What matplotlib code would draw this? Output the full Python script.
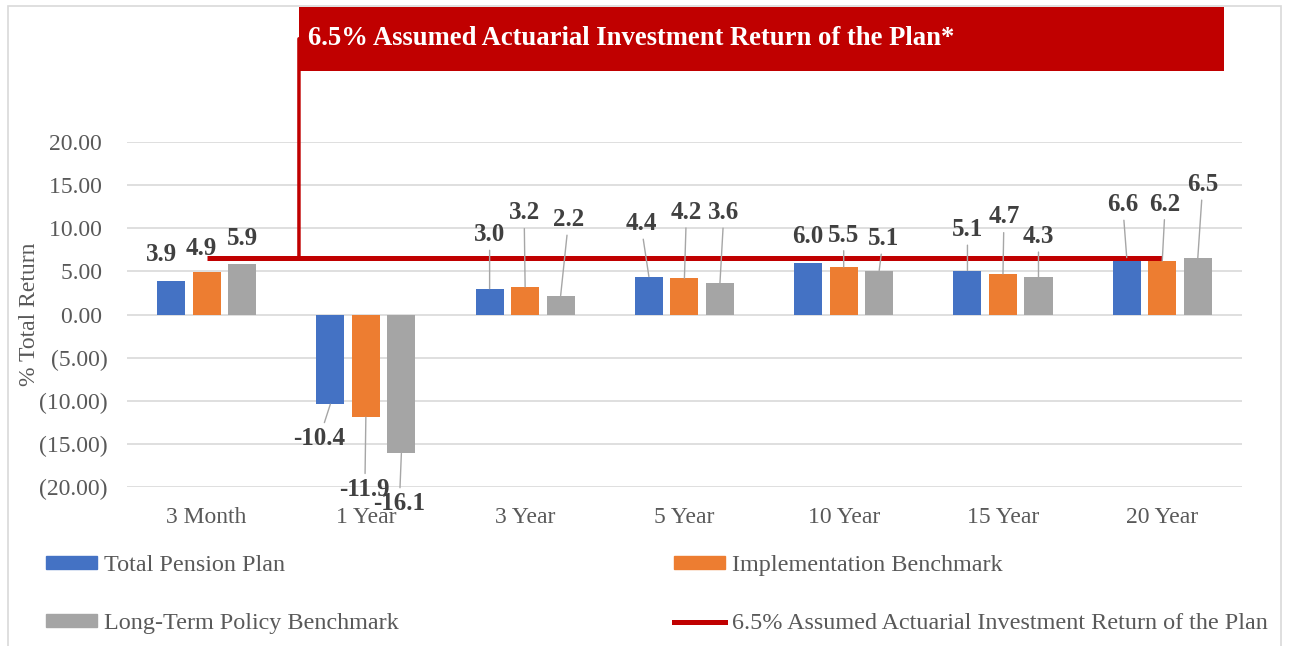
import matplotlib
matplotlib.use("Agg")
import matplotlib.pyplot as plt
from matplotlib.patches import Rectangle
from matplotlib.lines import Line2D
from matplotlib.ticker import FuncFormatter
import numpy as np

plt.rcParams['font.family'] = ['Liberation Serif', 'DejaVu Serif']

# datos del grafico
categorias = ['3 Month', '1 Year', '3 Year', '5 Year', '10 Year', '15 Year', '20 Year']
total_plan = [3.9, -10.4, 3.0, 4.4, 6.0, 5.1, 6.6]
implementation = [4.9, -11.9, 3.2, 4.2, 5.5, 4.7, 6.2]
long_term = [5.9, -16.1, 2.2, 3.6, 5.1, 4.3, 6.5]
assumed_return = [6.5, 6.5, 6.5, 6.5, 6.5, 6.5, 6.5]

nombres = ['Total Pension Plan', 'Implementation Benchmark', 'Long-Term Policy Benchmark']
linea_nombre = '6.5% Assumed Actuarial Investment Return of the Plan'
callout = '6.5% Assumed Actuarial Investment Return of the Plan*'

# desplazamiento (pixeles) de las etiquetas de datos respecto al extremo de la barra
off_total = [(-10, 26), (-11, -34), (0, 54), (-8, 53), (0, 26), (0, 41), (-4, 53)]
off_impl = [(-5, 24), (-1, -72), (-1, 74), (2, 66), (0, 32), (1, 57), (3, 57)]
off_long = [(0, 25), (-2, -50), (8, 76), (4, 71), (4, 32), (0, 41), (5, 74)]

colores = ['#4472C4', '#ED7D31', '#A5A5A5']
rojo = '#C00000'
gris_txt = '#595959'
gris_lbl = '#404040'

fig = plt.figure(figsize=(12.9, 6.46), dpi=100)
ax = fig.add_axes([0.0984, 0.2461, 0.8643, 0.5341])

x = np.arange(len(categorias))
paso = 0.223
ancho = 0.176
series = [total_plan, implementation, long_term]
offsets = [off_total, off_impl, off_long]

for k in range(3):
    pos = x + (k - 1) * paso
    ax.bar(pos, series[k], width=ancho, color=colores[k], zorder=2, label=nombres[k])
    for i in range(len(categorias)):
        dx, dy = offsets[k][i]
        props = None
        if abs(dy) > 28:
            props = dict(arrowstyle='-', color='#A6A6A6', lw=1, shrinkA=1, shrinkB=0)
        ax.annotate('%.1f' % series[k][i], xy=(pos[i], series[k][i]), xytext=(dx, dy),
                    textcoords='offset pixels', ha='center', va='center',
                    fontsize=18, fontweight='bold', color=gris_lbl,
                    arrowprops=props, zorder=5)

ax.plot(x, assumed_return, color=rojo, lw=3.6, zorder=4, solid_capstyle='butt')

# ejes
ax.set_xlim(-0.5, 6.5)
ax.set_ylim(-20, 20)
ax.set_yticks(np.arange(-20, 21, 5))
ax.yaxis.set_major_formatter(FuncFormatter(
    lambda v, p: '(%.2f)' % abs(v) if v < 0 else '%.2f ' % v))
ax.set_xticks(x)
ax.set_xticklabels(categorias)
ax.tick_params(axis='both', length=0, labelsize=17, labelcolor=gris_txt)
ax.tick_params(axis='y', pad=14)
ax.tick_params(axis='x', pad=14.5)
ax.grid(axis='y', color='#D9D9D9', lw=1.2, zorder=0)
ax.set_axisbelow(True)
for s in ax.spines.values():
    s.set_visible(False)
ax.set_ylabel('% Total Return', fontsize=17, color=gris_txt, labelpad=-0.5)

# recuadro rojo del titulo
fig.patches.append(Rectangle((0.2318, 0.890), 0.717, 0.099, transform=fig.transFigure,
                             facecolor=rojo, edgecolor='none', zorder=1))
fig.text(0.2388, 0.941, callout, color='white', fontsize=19.2, fontweight='bold',
         ha='left', va='center')
ax.annotate('', xy=(0.58, 6.5), xycoords='data', xytext=(0.58, 0.94),
            textcoords=('data', 'figure fraction'),
            arrowprops=dict(arrowstyle='-', color=rojo, lw=2.5, shrinkA=0, shrinkB=0),
            annotation_clip=False)

# leyenda
h = [Rectangle((0, 0), 1, 1, color=colores[0]), Rectangle((0, 0), 1, 1, color=colores[2]),
     Rectangle((0, 0), 1, 1, color=colores[1]), Line2D([0], [0], color=rojo, lw=3.6)]
l = [nombres[0], nombres[2], nombres[1], linea_nombre]
leg = fig.legend(h, l, ncol=2, loc='upper left', bbox_to_anchor=(0.0357, 0.0, 0.947, 0.141),
                 mode='expand', frameon=False, fontsize=17.4, handlelength=2.1,
                 handleheight=0.45, handletextpad=0.3, labelspacing=1.55, borderpad=0,
                 borderaxespad=0)
for t in leg.get_texts():
    t.set_color(gris_txt)

# borde exterior
fig.patches.append(Rectangle((8 / 1290, -0.02), 1273 / 1290, 0.9907 + 0.02,
                             transform=fig.transFigure, fill=False,
                             edgecolor='#D9D9D9', lw=1.2))

fig.savefig('out.png', dpi=100)
